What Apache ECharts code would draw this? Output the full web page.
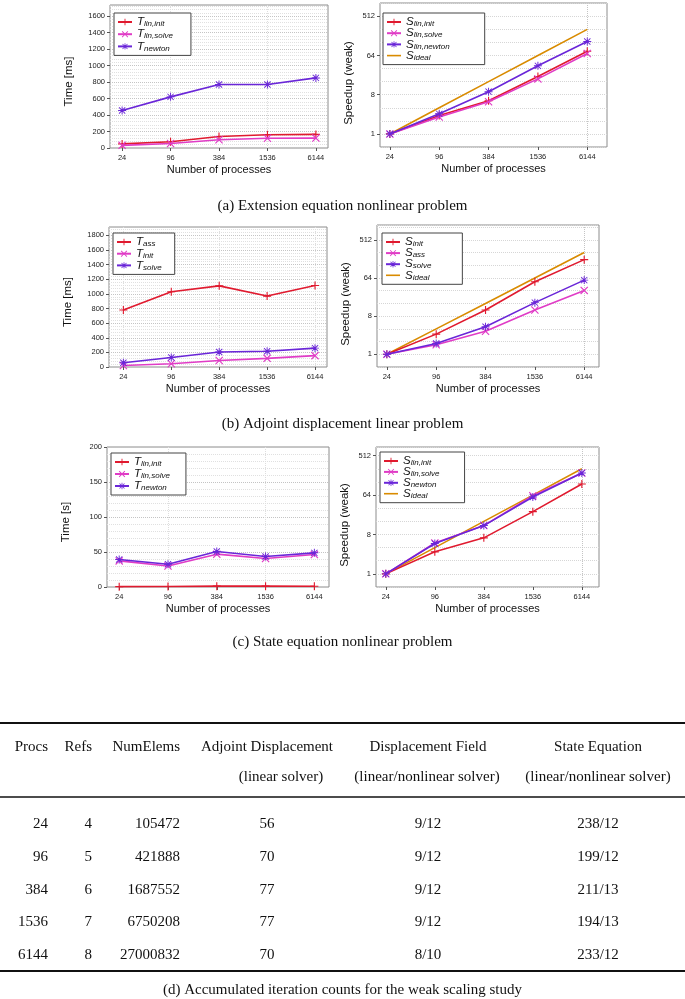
<!DOCTYPE html>
<html><head><meta charset="utf-8">
<script src="https://cdn.jsdelivr.net/npm/echarts@6/dist/echarts.min.js"></script>
<style>html,body{margin:0;padding:0;background:#fff}#c{width:685px;height:999px}</style>
</head><body><div id="c"></div>
<script>
// ---------- data ----------
const procs = [24, 96, 384, 1536, 6144];
// (a) extension equation nonlinear problem
const a_Tlininit  = [50, 75, 140, 160, 165];
const a_Tlinsolve = [32, 55, 100, 118, 120];
const a_Tnewton   = [455, 620, 770, 770, 850];
const a_Slininit  = [1, 2.66, 5.8, 21, 80];
const a_Slinsolve = [1, 2.45, 5.5, 18.5, 71];
const a_Slinnewton= [1, 2.9, 9.4, 37, 134];
const idealSpeedup = [1, 4, 16, 64, 256];
// (b) adjoint displacement linear problem
const b_Tass   = [780, 1030, 1110, 970, 1115];
const b_Tinit  = [20, 45, 88, 118, 155];
const b_Tsolve = [58, 130, 205, 215, 258];
const b_Sinit  = [1, 3.0, 11.2, 52, 174];
const b_Sass   = [1, 1.68, 3.5, 11.2, 32.5];
const b_Ssolve = [1, 1.8, 4.5, 16.7, 57];
// (c) state equation nonlinear problem
const c_Tlininit  = [0.5, 0.63, 1.2, 1.2, 1.1];
const c_Tlinsolve = [37.3, 30.1, 46.9, 40.7, 46.4];
const c_Tnewton   = [39.2, 32.5, 50.7, 43.5, 48.8];
const c_Slininit  = [1, 3.2, 6.7, 26.7, 115];
const c_Slinsolve = [1, 5.1, 12.8, 62, 205];
const c_Snewton   = [1, 4.96, 12.8, 58, 205];
// (d) table
const tblHead1 = ['Procs', 'Refs', 'NumElems', 'Adjoint Displacement', 'Displacement Field', 'State Equation'];
const tblHead2 = ['', '', '', '(linear solver)', '(linear/nonlinear solver)', '(linear/nonlinear solver)'];
const tblProcs = ['24', '96', '384', '1536', '6144'];
const tblRefs = ['4', '5', '6', '7', '8'];
const tblNumElems = ['105472', '421888', '1687552', '6750208', '27000832'];
const tblAdjoint = ['56', '70', '77', '77', '70'];
const tblDisplacement = ['9/12', '9/12', '9/12', '9/12', '8/10'];
const tblState = ['238/12', '199/12', '211/13', '194/13', '233/12'];
const captions = ['(a) Extension equation nonlinear problem', '(b) Adjoint displacement linear problem',
  '(c) State equation nonlinear problem', '(d) Accumulated iteration counts for the weak scaling study'];
const logTicks = [1, 8, 64, 512];

// ---------- style ----------
const RED = '#e01a2f', MAG = '#e03cc6', PUR = '#6a26d8', ORA = '#d98b00';
const S_PLUS = 'path://M4.3,0H5.7V4.3H10V5.7H5.7V10H4.3V5.7H0V4.3H4.3Z';
const S_X = 'path://M0,1L1,0L5,4L9,0L10,1L6,5L10,9L9,10L5,6L1,10L0,9L4,5Z';
const S_STAR = 'path://M4.4,0H5.6V4.4H10V5.6H5.6V10H4.4V5.6H0V4.4H4.4Z M0.7,1.5L1.5,0.7L5,4.2L8.5,0.7L9.3,1.5L5.8,5L9.3,8.5L8.5,9.3L5,5.8L1.5,9.3L0.7,8.5L4.2,5Z';
const S_LINE = 'path://M0,0H14V1.6H0Z';
const SANS = 'Liberation Sans', SERIF = 'Liberation Serif';

const charts = [
  {grid:{left:110, top:5, width:218, height:143}, xr:[-0.25, 4.25], lin:{max:1734, interval:200}, yName:'Time [ms]', yGap:35, yShift:10,
   legend:{left:114, top:13, gap:0.2, pr:18}, series:[['T','lin,init',a_Tlininit,RED,S_PLUS],['T','lin,solve',a_Tlinsolve,MAG,S_X],['T','newton',a_Tnewton,PUR,S_STAR]]},
  {grid:{left:380, top:3, width:227, height:144}, xr:[-0.2, 4.4], log:{min:0.5, max:1035}, yName:'Speedup (weak)', yGap:25, yShift:16,
   legend:{left:383, top:13, gap:-0.8, pr:35}, series:[['S','lin,init',a_Slininit,RED,S_PLUS],['S','lin,solve',a_Slinsolve,MAG,S_X],['S','lin,newton',a_Slinnewton,PUR,S_STAR],['S','ideal',idealSpeedup,ORA,'none']]},
  {grid:{left:109, top:227, width:218, height:140}, xr:[-0.3, 4.25], lin:{max:1915, interval:200}, yName:'Time [ms]', yGap:35, yShift:10,
   legend:{left:113, top:233, gap:-0.3, pr:13}, series:[['T','ass',b_Tass,RED,S_PLUS],['T','init',b_Tinit,MAG,S_X],['T','solve',b_Tsolve,PUR,S_STAR]]},
  {grid:{left:377, top:225, width:222, height:142}, xr:[-0.2, 4.3], log:{min:0.5, max:1150}, yName:'Speedup (weak)', yGap:25, yShift:16,
   legend:{left:382, top:233, gap:-0.9, pr:31}, series:[['S','init',b_Sinit,RED,S_PLUS],['S','ass',b_Sass,MAG,S_X],['S','solve',b_Ssolve,PUR,S_STAR],['S','ideal',idealSpeedup,ORA,'none']]},
  {grid:{left:107, top:447, width:222, height:140}, xr:[-0.25, 4.3], lin:{max:200, interval:50}, yName:'Time [s]', yGap:35, yShift:10,
   legend:{left:111, top:453, gap:0, pr:16}, series:[['T','lin,init',c_Tlininit,RED,S_PLUS],['T','lin,solve',c_Tlinsolve,MAG,S_X],['T','newton',c_Tnewton,PUR,S_STAR]]},
  {grid:{left:376, top:447, width:223, height:140}, xr:[-0.2, 4.35], log:{min:0.5, max:810}, yName:'Speedup (weak)', yGap:25, yShift:16,
   legend:{left:380, top:452, gap:-1.1, pr:25}, series:[['S','lin,init',c_Slininit,RED,S_PLUS],['S','lin,solve',c_Slinsolve,MAG,S_X],['S','newton',c_Snewton,PUR,S_STAR],['S','ideal',idealSpeedup,ORA,'none']]}
];

const STEP = 0.05;
function xColors(min, dense) {
  const n = Math.round(1 / STEP), n0 = Math.round(-min / STEP), arr = [];
  for (let j = 0; j < n; j++) {
    const k = (((j - n0) % n) + n) % n;
    if (dense) arr.push(k === 0 ? '#c4c4c4' : (k % 2 === 0 ? '#dedede' : 'rgba(0,0,0,0)'));
    else arr.push(k === 0 ? '#c4c4c4' : 'rgba(0,0,0,0)');
  }
  return arr;
}

const grid = [], xAxis = [], yAxis = [], series = [], legend = [], LBL = {};
const tickStyle = {color:'#555', width:1};
const labelStyle = {fontSize:7.5, fontFamily:SANS, color:'#222'};

charts.forEach((c, gi) => {
  grid.push(Object.assign({show:true, borderColor:'#8c8c8c', borderWidth:1, backgroundColor:'rgba(0,0,0,0)'}, c.grid));
  const dense = !!c.lin;
  xAxis.push({type:'value', gridIndex:gi, position:'bottom', min:c.xr[0], max:c.xr[1], interval:STEP,
    axisLine:{show:false, onZero:false},
    axisTick:{show:true, length:3, customValues:[0,1,2,3,4], lineStyle:tickStyle},
    axisLabel:Object.assign({customValues:[0,1,2,3,4], margin:6, formatter:v => String(procs[Math.round(v)])}, labelStyle),
    splitLine:{show:true, lineStyle:{type:'dotted', width:1, color:xColors(c.xr[0], dense)}},
    name:'Number of processes', nameLocation:'middle', nameGap:16,
    nameTextStyle:{fontSize:11, fontFamily:SANS, color:'#111'}});
  const yMain = yAxis.length;
  const yName = {name:c.yName, nameLocation:'middle', nameGap:c.yGap,
    nameTextStyle:{fontSize:11.5, fontFamily:SANS, color:'#111', padding:[0, c.yShift, 0, 0]}};
  if (c.lin) {
    yAxis.push(Object.assign({type:'value', gridIndex:gi, position:'left', min:0, max:c.lin.max, interval:c.lin.interval,
      axisLine:{show:false, onZero:false}, axisTick:{show:true, length:3, lineStyle:tickStyle},
      axisLabel:Object.assign({margin:5, showMaxLabel:(c.lin.max % c.lin.interval === 0), formatter:v => String(v)}, labelStyle),
      splitLine:{show:true, lineStyle:{type:'dotted', color:'#c4c4c4'}},
      minorTick:{show:false, splitNumber:5},
      minorSplitLine:{show:true, lineStyle:{type:'dotted', color:'#e0e0e0'}}}, yName));
  } else {
    yAxis.push(Object.assign({type:'log', logBase:8, gridIndex:gi, position:'left', min:c.log.min, max:c.log.max,
      axisLine:{show:false, onZero:false}, axisTick:{show:true, length:3, customValues:logTicks, lineStyle:tickStyle},
      axisLabel:Object.assign({margin:5, customValues:logTicks, formatter:v => String(Math.round(v))}, labelStyle),
      splitLine:{show:true, lineStyle:{type:'dotted', color:'#c4c4c4'}}}, yName));
    // helper axis (log8 space) for minor grid lines
    yAxis.push({type:'value', gridIndex:gi, position:'left', min:Math.log(c.log.min)/Math.log(8),
      max:Math.log(c.log.max)/Math.log(8), interval:1/3,
      axisLine:{show:false, onZero:false}, axisTick:{show:false}, axisLabel:{show:false},
      splitLine:{show:true, lineStyle:{type:'dotted', color:'#d6d6d6'}}});
  }
  const names = [];
  c.series.forEach((s, si) => {
    const id = 'c' + gi + 's' + si;
    LBL[id] = [s[0], s[1]];
    names.push(s[4] === 'none' ? {name:id, icon:S_LINE} : id);
    series.push({type:'line', name:id, xAxisIndex:gi, yAxisIndex:yMain,
      data:s[2].map((v, i) => [i, v]), color:s[3],
      symbol:s[4], symbolSize:8, showSymbol:s[4] !== 'none',
      lineStyle:{width:1.6, color:s[3]}, itemStyle:{color:s[3], borderWidth:0},
      z: 3 + (s[4] === 'none' ? -1 : si), animation:false, silent:true});
  });
  legend.push({left:c.legend.left, top:c.legend.top, orient:'vertical', data:names, selectedMode:false,
    itemWidth:14, itemHeight:8, itemGap:c.legend.gap, padding:[3, c.legend.pr, 3, 3],
    borderColor:'#444', borderWidth:1, backgroundColor:'#fff', borderRadius:0,
    formatter:n => '{m|' + LBL[n][0] + '}{s|' + LBL[n][1] + '}',
    textStyle:{fontFamily:SANS, fontStyle:'italic', color:'#111', padding:[0,0,0,0],
      rich:{m:{fontSize:11.5, fontStyle:'italic', fontFamily:SANS, color:'#111', lineHeight:11},
            s:{fontSize:8, fontStyle:'italic', fontFamily:SANS, color:'#111', lineHeight:7, padding:[4,0,0,0]}}}});
});

// ---------- captions & table ----------
const graphic = [];
const capY = [206, 424, 642, 990];
captions.forEach((t, i) => graphic.push({type:'text', x:342.5, y:capY[i], silent:true,
  style:{text:t, align:'center', verticalAlign:'middle', fontSize:15, fontFamily:SERIF, fill:'#111'}}));
const rule = (y, w) => graphic.push({type:'line', silent:true, shape:{x1:0, y1:y, x2:685, y2:y}, style:{stroke:'#111', lineWidth:w}});
rule(723, 2); rule(797, 1.3); rule(971, 2);
const cols = [{x:48, a:'right'}, {x:92, a:'right'}, {x:180, a:'right'}, {x:267, a:'center'}, {x:428, a:'center'}, {x:598, a:'center'}];
const head2X = [48, 92, 180, 281, 427, 598];
const rowY = [824, 857, 890, 922, 955];
const tcell = (t, x, y, a) => graphic.push({type:'text', x, y, silent:true,
  style:{text:t, align:a, verticalAlign:'middle', fontSize:15, fontFamily:SERIF, fill:'#111'}});
tblHead1.forEach((t, i) => tcell(t, cols[i].x, 747, cols[i].a));
tblHead2.forEach((t, i) => { if (t) tcell(t, head2X[i], 777, 'center'); });
const tblCols = [tblProcs, tblRefs, tblNumElems, tblAdjoint, tblDisplacement, tblState];
tblCols.forEach((col, ci) => col.forEach((t, ri) => tcell(t, cols[ci].x, rowY[ri], cols[ci].a)));

const chart = echarts.init(document.getElementById('c'), null, {renderer:'canvas'});
chart.setOption({animation:false, grid, xAxis, yAxis, series, legend, graphic});
</script></body></html>
